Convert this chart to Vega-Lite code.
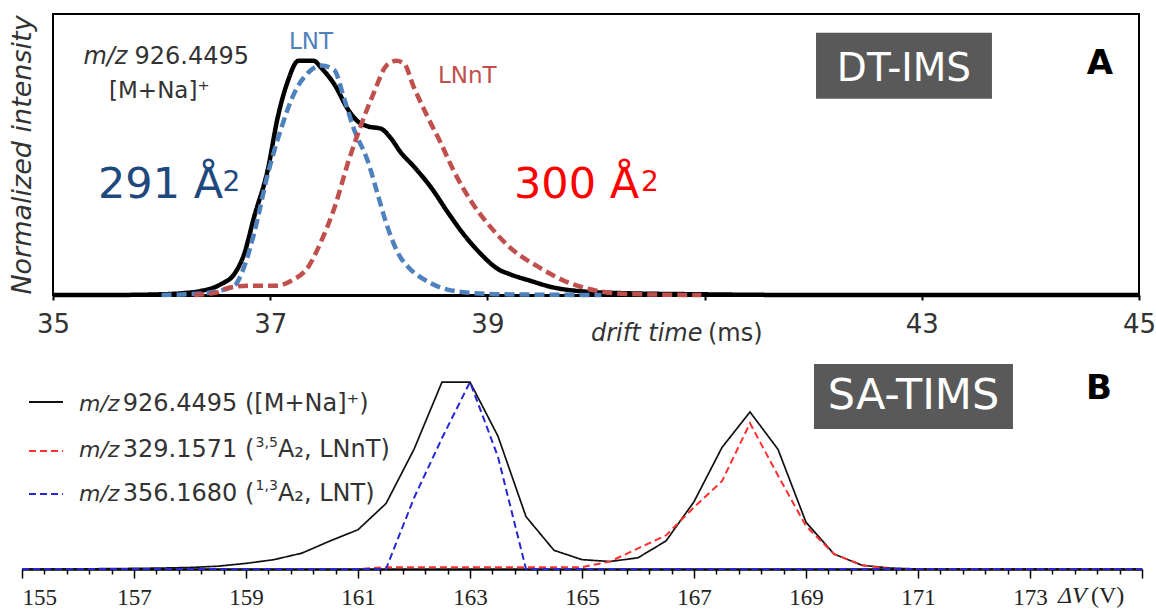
{
  "$schema": "https://vega.github.io/schema/vega-lite/v6.json",
  "background": "white",
  "padding": {"left": 6, "top": 13, "right": 5, "bottom": 3},
  "config": {
    "font": "DejaVu Sans",
    "text": {"font": "DejaVu Sans", "color": "#333333"},
    "axis": {"labelFont": "DejaVu Sans", "titleFont": "DejaVu Sans", "grid": false}
  },
  "datasets": {
    "one": [{}],
    "dt": [
      {"ion": "[M+Na]+", "t": 35.0, "i": 0},
      {"ion": "[M+Na]+", "t": 35.5, "i": 0},
      {"ion": "[M+Na]+", "t": 36.0, "i": 0.003},
      {"ion": "[M+Na]+", "t": 36.2, "i": 0.008},
      {"ion": "[M+Na]+", "t": 36.36, "i": 0.017},
      {"ion": "[M+Na]+", "t": 36.55, "i": 0.047},
      {"ion": "[M+Na]+", "t": 36.67, "i": 0.09},
      {"ion": "[M+Na]+", "t": 36.76, "i": 0.175},
      {"ion": "[M+Na]+", "t": 36.85, "i": 0.33},
      {"ion": "[M+Na]+", "t": 36.98, "i": 0.54},
      {"ion": "[M+Na]+", "t": 37.07, "i": 0.76},
      {"ion": "[M+Na]+", "t": 37.16, "i": 0.91},
      {"ion": "[M+Na]+", "t": 37.26, "i": 1.0},
      {"ion": "[M+Na]+", "t": 37.4, "i": 1.0},
      {"ion": "[M+Na]+", "t": 37.47, "i": 0.97},
      {"ion": "[M+Na]+", "t": 37.59, "i": 0.9},
      {"ion": "[M+Na]+", "t": 37.72, "i": 0.79},
      {"ion": "[M+Na]+", "t": 37.81, "i": 0.74},
      {"ion": "[M+Na]+", "t": 37.9, "i": 0.72},
      {"ion": "[M+Na]+", "t": 38.02, "i": 0.71},
      {"ion": "[M+Na]+", "t": 38.11, "i": 0.67},
      {"ion": "[M+Na]+", "t": 38.2, "i": 0.61},
      {"ion": "[M+Na]+", "t": 38.32, "i": 0.55},
      {"ion": "[M+Na]+", "t": 38.48, "i": 0.46},
      {"ion": "[M+Na]+", "t": 38.64, "i": 0.35},
      {"ion": "[M+Na]+", "t": 38.78, "i": 0.26},
      {"ion": "[M+Na]+", "t": 38.94, "i": 0.175},
      {"ion": "[M+Na]+", "t": 39.1, "i": 0.11},
      {"ion": "[M+Na]+", "t": 39.2, "i": 0.09},
      {"ion": "[M+Na]+", "t": 39.4, "i": 0.06},
      {"ion": "[M+Na]+", "t": 39.6, "i": 0.033},
      {"ion": "[M+Na]+", "t": 39.86, "i": 0.016},
      {"ion": "[M+Na]+", "t": 40.23, "i": 0.008},
      {"ion": "[M+Na]+", "t": 40.97, "i": 0.003},
      {"ion": "[M+Na]+", "t": 41.9, "i": 0},
      {"ion": "[M+Na]+", "t": 45.0, "i": 0},
      {"ion": "LNT", "t": 36.0, "i": 0},
      {"ion": "LNT", "t": 36.32, "i": 0.005},
      {"ion": "LNT", "t": 36.5, "i": 0.015},
      {"ion": "LNT", "t": 36.67, "i": 0.04},
      {"ion": "LNT", "t": 36.76, "i": 0.12},
      {"ion": "LNT", "t": 36.85, "i": 0.26},
      {"ion": "LNT", "t": 36.98, "i": 0.52},
      {"ion": "LNT", "t": 37.1, "i": 0.71},
      {"ion": "LNT", "t": 37.22, "i": 0.86},
      {"ion": "LNT", "t": 37.35, "i": 0.95},
      {"ion": "LNT", "t": 37.47, "i": 0.98},
      {"ion": "LNT", "t": 37.59, "i": 0.96},
      {"ion": "LNT", "t": 37.68, "i": 0.84},
      {"ion": "LNT", "t": 37.77, "i": 0.71},
      {"ion": "LNT", "t": 37.9, "i": 0.57},
      {"ion": "LNT", "t": 37.99, "i": 0.43},
      {"ion": "LNT", "t": 38.08, "i": 0.29},
      {"ion": "LNT", "t": 38.2, "i": 0.16},
      {"ion": "LNT", "t": 38.27, "i": 0.12},
      {"ion": "LNT", "t": 38.48, "i": 0.05},
      {"ion": "LNT", "t": 38.78, "i": 0.012},
      {"ion": "LNT", "t": 39.12, "i": 0.003},
      {"ion": "LNT", "t": 40.05, "i": 0},
      {"ion": "LNnT", "t": 36.3, "i": 0},
      {"ion": "LNnT", "t": 36.5, "i": 0.01},
      {"ion": "LNnT", "t": 36.61, "i": 0.03},
      {"ion": "LNnT", "t": 36.82, "i": 0.04},
      {"ion": "LNnT", "t": 37.07, "i": 0.04},
      {"ion": "LNnT", "t": 37.19, "i": 0.06},
      {"ion": "LNnT", "t": 37.35, "i": 0.12},
      {"ion": "LNnT", "t": 37.47, "i": 0.23},
      {"ion": "LNnT", "t": 37.59, "i": 0.37},
      {"ion": "LNnT", "t": 37.72, "i": 0.57},
      {"ion": "LNnT", "t": 37.84, "i": 0.73},
      {"ion": "LNnT", "t": 37.96, "i": 0.87},
      {"ion": "LNnT", "t": 38.07, "i": 0.98},
      {"ion": "LNnT", "t": 38.16, "i": 1.0},
      {"ion": "LNnT", "t": 38.23, "i": 0.99},
      {"ion": "LNnT", "t": 38.32, "i": 0.89},
      {"ion": "LNnT", "t": 38.45, "i": 0.76},
      {"ion": "LNnT", "t": 38.57, "i": 0.65},
      {"ion": "LNnT", "t": 38.69, "i": 0.53},
      {"ion": "LNnT", "t": 38.85, "i": 0.4},
      {"ion": "LNnT", "t": 39.03, "i": 0.29},
      {"ion": "LNnT", "t": 39.24, "i": 0.19},
      {"ion": "LNnT", "t": 39.47, "i": 0.12},
      {"ion": "LNnT", "t": 39.71, "i": 0.06},
      {"ion": "LNnT", "t": 40.02, "i": 0.017},
      {"ion": "LNnT", "t": 40.32, "i": 0.004},
      {"ion": "LNnT", "t": 40.97, "i": 0}
    ],
    "tims": [
      {"ion": "926.4495", "dv": 155, "i": 0},
      {"ion": "926.4495", "dv": 155.5, "i": 0},
      {"ion": "926.4495", "dv": 156, "i": 0},
      {"ion": "926.4495", "dv": 156.5, "i": 0.002},
      {"ion": "926.4495", "dv": 157, "i": 0.003},
      {"ion": "926.4495", "dv": 157.5, "i": 0.005},
      {"ion": "926.4495", "dv": 158, "i": 0.008},
      {"ion": "926.4495", "dv": 158.5, "i": 0.015},
      {"ion": "926.4495", "dv": 159, "i": 0.03},
      {"ion": "926.4495", "dv": 159.5, "i": 0.05},
      {"ion": "926.4495", "dv": 160, "i": 0.085},
      {"ion": "926.4495", "dv": 160.5, "i": 0.15},
      {"ion": "926.4495", "dv": 161, "i": 0.21},
      {"ion": "926.4495", "dv": 161.5, "i": 0.35},
      {"ion": "926.4495", "dv": 162, "i": 0.64},
      {"ion": "926.4495", "dv": 162.5, "i": 1.0},
      {"ion": "926.4495", "dv": 163, "i": 1.0},
      {"ion": "926.4495", "dv": 163.5, "i": 0.71},
      {"ion": "926.4495", "dv": 164, "i": 0.28},
      {"ion": "926.4495", "dv": 164.5, "i": 0.1},
      {"ion": "926.4495", "dv": 165, "i": 0.05},
      {"ion": "926.4495", "dv": 165.5, "i": 0.04},
      {"ion": "926.4495", "dv": 166, "i": 0.06},
      {"ion": "926.4495", "dv": 166.5, "i": 0.15},
      {"ion": "926.4495", "dv": 167, "i": 0.36},
      {"ion": "926.4495", "dv": 167.5, "i": 0.65},
      {"ion": "926.4495", "dv": 168, "i": 0.84},
      {"ion": "926.4495", "dv": 168.5, "i": 0.64},
      {"ion": "926.4495", "dv": 169, "i": 0.25},
      {"ion": "926.4495", "dv": 169.5, "i": 0.08},
      {"ion": "926.4495", "dv": 170, "i": 0.02},
      {"ion": "926.4495", "dv": 170.5, "i": 0.005},
      {"ion": "926.4495", "dv": 171, "i": 0},
      {"ion": "926.4495", "dv": 171.5, "i": 0},
      {"ion": "926.4495", "dv": 172, "i": 0},
      {"ion": "926.4495", "dv": 172.5, "i": 0},
      {"ion": "926.4495", "dv": 173, "i": 0},
      {"ion": "926.4495", "dv": 173.5, "i": 0},
      {"ion": "926.4495", "dv": 174, "i": 0},
      {"ion": "926.4495", "dv": 174.5, "i": 0},
      {"ion": "926.4495", "dv": 175, "i": 0},
      {"ion": "329.1571", "dv": 155, "i": 0},
      {"ion": "329.1571", "dv": 155.5, "i": 0},
      {"ion": "329.1571", "dv": 156, "i": 0},
      {"ion": "329.1571", "dv": 156.5, "i": 0},
      {"ion": "329.1571", "dv": 157, "i": 0},
      {"ion": "329.1571", "dv": 157.5, "i": 0},
      {"ion": "329.1571", "dv": 158, "i": 0},
      {"ion": "329.1571", "dv": 158.5, "i": 0},
      {"ion": "329.1571", "dv": 159, "i": 0},
      {"ion": "329.1571", "dv": 159.5, "i": 0},
      {"ion": "329.1571", "dv": 160, "i": 0},
      {"ion": "329.1571", "dv": 160.5, "i": 0},
      {"ion": "329.1571", "dv": 161, "i": 0},
      {"ion": "329.1571", "dv": 161.5, "i": 0.01},
      {"ion": "329.1571", "dv": 162, "i": 0.01},
      {"ion": "329.1571", "dv": 162.5, "i": 0.01},
      {"ion": "329.1571", "dv": 163, "i": 0.01},
      {"ion": "329.1571", "dv": 163.5, "i": 0.01},
      {"ion": "329.1571", "dv": 164, "i": 0.01},
      {"ion": "329.1571", "dv": 164.5, "i": 0.01},
      {"ion": "329.1571", "dv": 165, "i": 0.01},
      {"ion": "329.1571", "dv": 165.5, "i": 0.04},
      {"ion": "329.1571", "dv": 166, "i": 0.11},
      {"ion": "329.1571", "dv": 166.5, "i": 0.18},
      {"ion": "329.1571", "dv": 167, "i": 0.33},
      {"ion": "329.1571", "dv": 167.5, "i": 0.47},
      {"ion": "329.1571", "dv": 168, "i": 0.78},
      {"ion": "329.1571", "dv": 168.5, "i": 0.5},
      {"ion": "329.1571", "dv": 169, "i": 0.23},
      {"ion": "329.1571", "dv": 169.5, "i": 0.08},
      {"ion": "329.1571", "dv": 170, "i": 0.02},
      {"ion": "329.1571", "dv": 170.5, "i": 0},
      {"ion": "329.1571", "dv": 171, "i": 0},
      {"ion": "329.1571", "dv": 171.5, "i": 0},
      {"ion": "329.1571", "dv": 172, "i": 0},
      {"ion": "329.1571", "dv": 172.5, "i": 0},
      {"ion": "329.1571", "dv": 173, "i": 0},
      {"ion": "329.1571", "dv": 173.5, "i": 0},
      {"ion": "329.1571", "dv": 174, "i": 0},
      {"ion": "329.1571", "dv": 174.5, "i": 0},
      {"ion": "329.1571", "dv": 175, "i": 0},
      {"ion": "356.1680", "dv": 155, "i": 0},
      {"ion": "356.1680", "dv": 155.5, "i": 0},
      {"ion": "356.1680", "dv": 156, "i": 0},
      {"ion": "356.1680", "dv": 156.5, "i": 0},
      {"ion": "356.1680", "dv": 157, "i": 0},
      {"ion": "356.1680", "dv": 157.5, "i": 0},
      {"ion": "356.1680", "dv": 158, "i": 0},
      {"ion": "356.1680", "dv": 158.5, "i": 0},
      {"ion": "356.1680", "dv": 159, "i": 0},
      {"ion": "356.1680", "dv": 159.5, "i": 0},
      {"ion": "356.1680", "dv": 160, "i": 0},
      {"ion": "356.1680", "dv": 160.5, "i": 0},
      {"ion": "356.1680", "dv": 161, "i": 0},
      {"ion": "356.1680", "dv": 161.5, "i": 0},
      {"ion": "356.1680", "dv": 162, "i": 0.38},
      {"ion": "356.1680", "dv": 162.5, "i": 0.7},
      {"ion": "356.1680", "dv": 163, "i": 1.0},
      {"ion": "356.1680", "dv": 163.5, "i": 0.6},
      {"ion": "356.1680", "dv": 164, "i": 0},
      {"ion": "356.1680", "dv": 164.5, "i": 0},
      {"ion": "356.1680", "dv": 165, "i": 0},
      {"ion": "356.1680", "dv": 165.5, "i": 0},
      {"ion": "356.1680", "dv": 166, "i": 0},
      {"ion": "356.1680", "dv": 166.5, "i": 0},
      {"ion": "356.1680", "dv": 167, "i": 0},
      {"ion": "356.1680", "dv": 167.5, "i": 0},
      {"ion": "356.1680", "dv": 168, "i": 0},
      {"ion": "356.1680", "dv": 168.5, "i": 0},
      {"ion": "356.1680", "dv": 169, "i": 0},
      {"ion": "356.1680", "dv": 169.5, "i": 0},
      {"ion": "356.1680", "dv": 170, "i": 0},
      {"ion": "356.1680", "dv": 170.5, "i": 0},
      {"ion": "356.1680", "dv": 171, "i": 0},
      {"ion": "356.1680", "dv": 171.5, "i": 0},
      {"ion": "356.1680", "dv": 172, "i": 0},
      {"ion": "356.1680", "dv": 172.5, "i": 0},
      {"ion": "356.1680", "dv": 173, "i": 0},
      {"ion": "356.1680", "dv": 173.5, "i": 0},
      {"ion": "356.1680", "dv": 174, "i": 0},
      {"ion": "356.1680", "dv": 174.5, "i": 0},
      {"ion": "356.1680", "dv": 175, "i": 0}
    ]
  },
  "spacing": 6,
  "resolve": {"scale": {"color": "independent", "strokeDash": "independent"}},
  "vconcat": [
    {
      "width": 1086,
      "height": 281,
      "view": {"stroke": "black", "strokeWidth": 2},
      "layer": [
        {
          "data": {"name": "dt"},
          "mark": {"type": "line", "interpolate": "monotone", "strokeWidth": 4.5},
          "encoding": {
            "x": {
              "field": "t", "type": "quantitative",
              "scale": {"domain": [35, 45], "nice": false, "zero": false},
              "axis": {
                "title": null, "values": [35, 37, 39, 41, 43, 45], "format": "d",
                "labelExpr": "datum.value == 41 ? '' : datum.label",
                "labelFlush": false, "labelOverlap": false,
                "domainColor": "black", "domainWidth": 3,
                "tickColor": "black", "tickWidth": 2, "tickSize": 5,
                "labelFontSize": 26, "labelColor": "#333333", "labelPadding": 11
              }
            },
            "y": {
              "field": "i", "type": "quantitative",
              "scale": {"domain": [0, 1.2], "nice": false},
              "axis": {
                "title": "Normalized intensity", "titleFontStyle": "italic",
                "titleFontWeight": "normal", "titleFontSize": 27, "titleColor": "#333333",
                "titlePadding": 17, "labels": false, "ticks": false, "domain": false
              }
            },
            "color": {
              "field": "ion", "type": "nominal", "legend": null,
              "scale": {"domain": ["[M+Na]+", "LNT", "LNnT"], "range": ["#000000", "#4f81bd", "#c0504d"]}
            },
            "strokeDash": {
              "field": "ion", "type": "nominal", "legend": null,
              "scale": {"domain": ["[M+Na]+", "LNT", "LNnT"], "range": [[1, 0], [10, 5], [10, 5]]}
            }
          }
        },
        {
          "data": {"name": "one"},
          "mark": {"type": "rect", "fill": "#595959"},
          "encoding": {"x": {"datum": 42.026}, "x2": {"datum": 43.646}, "y": {"datum": 1.12}, "y2": {"datum": 0.838}}
        },
        {
          "data": {"name": "one"},
          "mark": {"type": "text", "text": "DT-IMS", "color": "white", "fontSize": 39, "align": "center", "baseline": "alphabetic"},
          "encoding": {"x": {"datum": 42.836}, "y": {"datum": 0.915}}
        },
        {
          "data": {"name": "one"},
          "mark": {"type": "text", "text": "A", "color": "black", "fontSize": 34, "fontWeight": "bold", "align": "center", "baseline": "alphabetic"},
          "encoding": {"x": {"datum": 44.641}, "y": {"datum": 0.944}}
        },
        {
          "data": {"name": "one"},
          "mark": {"type": "text", "text": "m/z", "fontStyle": "italic", "fontSize": 24, "align": "left", "baseline": "alphabetic"},
          "encoding": {"x": {"datum": 35.28}, "y": {"datum": 0.987}}
        },
        {
          "data": {"name": "one"},
          "mark": {"type": "text", "text": "926.4495", "fontSize": 24, "align": "left", "baseline": "alphabetic"},
          "encoding": {"x": {"datum": 35.75}, "y": {"datum": 0.987}}
        },
        {
          "data": {"name": "one"},
          "mark": {"type": "text", "text": "[M+Na]⁺", "fontSize": 23, "align": "left", "baseline": "alphabetic"},
          "encoding": {"x": {"datum": 35.516}, "y": {"datum": 0.842}}
        },
        {
          "data": {"name": "one"},
          "mark": {"type": "text", "text": "LNT", "color": "#4f81bd", "fontSize": 23, "align": "center", "baseline": "alphabetic"},
          "encoding": {"x": {"datum": 37.376}, "y": {"datum": 1.051}}
        },
        {
          "data": {"name": "one"},
          "mark": {"type": "text", "text": "LNnT", "color": "#c0504d", "fontSize": 23, "align": "left", "baseline": "alphabetic"},
          "encoding": {"x": {"datum": 38.545}, "y": {"datum": 0.906}}
        },
        {
          "data": {"name": "one"},
          "mark": {"type": "text", "text": "291 Å", "color": "#1f497d", "fontSize": 43, "align": "left", "baseline": "alphabetic"},
          "encoding": {"x": {"datum": 35.414}, "y": {"datum": 0.415}}
        },
        {
          "data": {"name": "one"},
          "mark": {"type": "text", "text": "2", "color": "#1f497d", "fontSize": 28, "align": "left", "baseline": "alphabetic"},
          "encoding": {"x": {"datum": 36.56}, "y": {"datum": 0.444}}
        },
        {
          "data": {"name": "one"},
          "mark": {"type": "text", "text": "300 Å", "color": "#ff0000", "fontSize": 43, "align": "left", "baseline": "alphabetic"},
          "encoding": {"x": {"datum": 39.245}, "y": {"datum": 0.415}}
        },
        {
          "data": {"name": "one"},
          "mark": {"type": "text", "text": "2", "color": "#ff0000", "fontSize": 28, "align": "left", "baseline": "alphabetic"},
          "encoding": {"x": {"datum": 40.414}, "y": {"datum": 0.444}}
        },
        {
          "data": {"name": "one"},
          "mark": {"type": "text", "text": "drift time", "fontStyle": "italic", "fontSize": 24, "align": "left", "baseline": "alphabetic"},
          "encoding": {"x": {"datum": 39.954}, "y": {"datum": -0.197}}
        },
        {
          "data": {"name": "one"},
          "mark": {"type": "text", "text": "(ms)", "fontSize": 24, "align": "left", "baseline": "alphabetic"},
          "encoding": {"x": {"datum": 41.031}, "y": {"datum": -0.197}}
        }
      ]
    },
    {
      "width": 1089,
      "height": 215,
      "view": {"stroke": null},
      "resolve": {"axis": {"x": "independent"}},
      "layer": [
        {
          "data": {"name": "tims"},
          "transform": [{"filter": "datum.ion == '926.4495'"}],
          "mark": {"type": "line", "strokeWidth": 1.7},
          "encoding": {
            "x": {
              "field": "dv", "type": "quantitative",
              "scale": {"domain": [155, 175], "range": [-31, 1089], "nice": false, "zero": false},
              "axis": {
                "title": null, "orient": "bottom", "format": "d",
                "values": [155, 157, 159, 161, 163, 165, 167, 169, 171, 173, 175],
                "labelExpr": "datum.value > 174 ? '' : datum.label",
                "labelFlush": true, "labelOverlap": false,
                "labelFont": "Liberation Serif", "labelFontSize": 23, "labelColor": "#222222",
                "labelPadding": 8,
                "domainColor": "black", "domainWidth": 2.5,
                "tickColor": "black", "tickWidth": 1.5, "tickSize": 9
              }
            },
            "y": {
              "field": "i", "type": "quantitative",
              "scale": {"domain": [0, 1.15], "nice": false},
              "axis": null
            },
            "color": {
              "field": "ion", "type": "nominal", "legend": null,
              "scale": {"domain": ["926.4495", "329.1571", "356.1680"], "range": ["#111111", "#ff3030", "#2626d6"]}
            },
            "strokeDash": {
              "field": "ion", "type": "nominal", "legend": null,
              "scale": {"domain": ["926.4495", "329.1571", "356.1680"], "range": [[1, 0], [7, 4], [7, 4]]}
            }
          }
        },
        {
          "data": {"name": "tims"},
          "transform": [{"filter": "datum.ion != '926.4495'"}],
          "mark": {"type": "line", "strokeWidth": 2},
          "encoding": {
            "x": {
              "field": "dv", "type": "quantitative",
              "axis": {
                "title": null, "orient": "bottom", "labels": false, "domain": false,
                "values": [155.4, 155.8, 156.2, 156.6, 157.4, 157.8, 158.2, 158.6, 159.4, 159.8, 160.2, 160.6, 161.4, 161.8, 162.2, 162.6, 163.4, 163.8, 164.2, 164.6, 165.4, 165.8, 166.2, 166.6, 167.4, 167.8, 168.2, 168.6, 169.4, 169.8, 170.2, 170.6, 171.4, 171.8, 172.2, 172.6, 173.4, 173.8, 174.2, 174.6],
                "tickColor": "black", "tickWidth": 1.5, "tickSize": 5
              }
            },
            "y": {"field": "i", "type": "quantitative", "axis": null},
            "color": {"field": "ion", "type": "nominal", "legend": null},
            "strokeDash": {"field": "ion", "type": "nominal", "legend": null}
          }
        },
        {
          "data": {"name": "one"},
          "mark": {"type": "rule", "strokeWidth": 2},
          "encoding": {
            "x": {"datum": 155.125, "axis": null}, "x2": {"datum": 155.732}, "y": {"datum": 0.893, "axis": null},
            "color": {"datum": "926.4495"}, "strokeDash": {"datum": "926.4495"}
          }
        },
        {
          "data": {"name": "one"},
          "mark": {"type": "rule", "strokeWidth": 2},
          "encoding": {
            "x": {"datum": 155.125, "axis": null}, "x2": {"datum": 155.732}, "y": {"datum": 0.631, "axis": null},
            "color": {"datum": "329.1571"}, "strokeDash": {"datum": "329.1571"}
          }
        },
        {
          "data": {"name": "one"},
          "mark": {"type": "rule", "strokeWidth": 2},
          "encoding": {
            "x": {"datum": 155.125, "axis": null}, "x2": {"datum": 155.732}, "y": {"datum": 0.401, "axis": null},
            "color": {"datum": "356.1680"}, "strokeDash": {"datum": "356.1680"}
          }
        },
        {
          "data": {"name": "one"},
          "mark": {"type": "text", "text": "m/z", "fontStyle": "italic", "fontSize": 22, "align": "left", "baseline": "alphabetic"},
          "encoding": {"x": {"datum": 156.018, "axis": null}, "y": {"datum": 0.845, "axis": null}}
        },
        {
          "data": {"name": "one"},
          "mark": {"type": "text", "text": "926.4495 ([M+Na]⁺)", "fontSize": 24, "align": "left", "baseline": "alphabetic"},
          "encoding": {"x": {"datum": 156.8, "axis": null}, "y": {"datum": 0.845, "axis": null}}
        },
        {
          "data": {"name": "one"},
          "mark": {"type": "text", "text": "m/z", "fontStyle": "italic", "fontSize": 22, "align": "left", "baseline": "alphabetic"},
          "encoding": {"x": {"datum": 156.018, "axis": null}, "y": {"datum": 0.599, "axis": null}}
        },
        {
          "data": {"name": "one"},
          "mark": {"type": "text", "text": "329.1571 (", "fontSize": 24, "align": "left", "baseline": "alphabetic"},
          "encoding": {"x": {"datum": 156.8, "axis": null}, "y": {"datum": 0.599, "axis": null}}
        },
        {
          "data": {"name": "one"},
          "mark": {"type": "text", "text": "3,5", "fontSize": 14, "align": "left", "baseline": "alphabetic"},
          "encoding": {"x": {"datum": 159.17, "axis": null}, "y": {"datum": 0.655, "axis": null}}
        },
        {
          "data": {"name": "one"},
          "mark": {"type": "text", "text": "A₂, LNnT)", "fontSize": 24, "align": "left", "baseline": "alphabetic"},
          "encoding": {"x": {"datum": 159.57, "axis": null}, "y": {"datum": 0.599, "axis": null}}
        },
        {
          "data": {"name": "one"},
          "mark": {"type": "text", "text": "m/z", "fontStyle": "italic", "fontSize": 22, "align": "left", "baseline": "alphabetic"},
          "encoding": {"x": {"datum": 156.018, "axis": null}, "y": {"datum": 0.364, "axis": null}}
        },
        {
          "data": {"name": "one"},
          "mark": {"type": "text", "text": "356.1680 (", "fontSize": 24, "align": "left", "baseline": "alphabetic"},
          "encoding": {"x": {"datum": 156.8, "axis": null}, "y": {"datum": 0.364, "axis": null}}
        },
        {
          "data": {"name": "one"},
          "mark": {"type": "text", "text": "1,3", "fontSize": 14, "align": "left", "baseline": "alphabetic"},
          "encoding": {"x": {"datum": 159.17, "axis": null}, "y": {"datum": 0.42, "axis": null}}
        },
        {
          "data": {"name": "one"},
          "mark": {"type": "text", "text": "A₂, LNT)", "fontSize": 24, "align": "left", "baseline": "alphabetic"},
          "encoding": {"x": {"datum": 159.57, "axis": null}, "y": {"datum": 0.364, "axis": null}}
        },
        {
          "data": {"name": "one"},
          "mark": {"type": "rect", "fill": "#595959"},
          "encoding": {"x": {"datum": 169.143, "axis": null}, "x2": {"datum": 172.696}, "y": {"datum": 1.096, "axis": null}, "y2": {"datum": 0.749}}
        },
        {
          "data": {"name": "one"},
          "mark": {"type": "text", "text": "SA-TIMS", "color": "white", "fontSize": 43, "align": "center", "baseline": "alphabetic"},
          "encoding": {"x": {"datum": 170.92, "axis": null}, "y": {"datum": 0.856, "axis": null}}
        },
        {
          "data": {"name": "one"},
          "mark": {"type": "text", "text": "B", "color": "black", "fontSize": 34, "fontWeight": "bold", "align": "center", "baseline": "alphabetic"},
          "encoding": {"x": {"datum": 174.23, "axis": null}, "y": {"datum": 0.909, "axis": null}}
        },
        {
          "data": {"name": "one"},
          "mark": {"type": "text", "text": "ΔV", "font": "Liberation Serif", "fontStyle": "italic", "fontSize": 24, "color": "#222222", "align": "left", "baseline": "alphabetic"},
          "encoding": {"x": {"datum": 173.5, "axis": null}, "y": {"datum": -0.18, "axis": null}}
        },
        {
          "data": {"name": "one"},
          "mark": {"type": "text", "text": "(V)", "font": "Liberation Serif", "fontSize": 24, "color": "#222222", "align": "left", "baseline": "alphabetic"},
          "encoding": {"x": {"datum": 174.09, "axis": null}, "y": {"datum": -0.18, "axis": null}}
        }
      ]
    }
  ]
}
